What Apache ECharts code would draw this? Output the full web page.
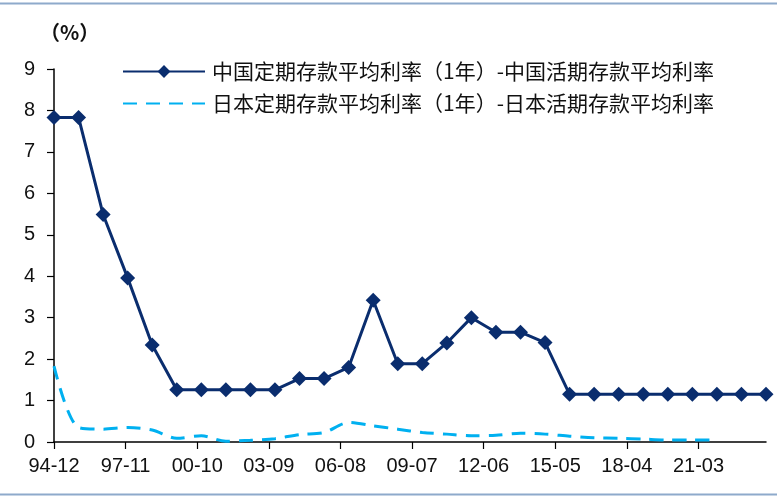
<!DOCTYPE html>
<html>
<head>
<meta charset="utf-8">
<script src="https://cdn.jsdelivr.net/npm/echarts@6/dist/echarts.min.js"></script>
<style>
html,body{margin:0;padding:0;background:#fff;}
#c{width:781px;height:501px;}
</style>
</head>
<body>
<div id="c"></div>
<script>
// Axis: monthly categories from 94-12 to 23-12
const axisStart = [1994, 12];
const axisEnd = [2023, 12];
const tickLabels = ['94-12','97-11','00-10','03-09','06-08','09-07','12-06','15-05','18-04','21-03'];

const seriesNames = [
  '中国定期存款平均利率（1年）-中国活期存款平均利率',
  '日本定期存款平均利率（1年）-日本活期存款平均利率'
];

// China: year-end spread points
const chinaDates = ['94-12','95-12','96-12','97-12','98-12','99-12','00-12','01-12','02-12','03-12',
  '04-12','05-12','06-12','07-12','08-12','09-12','10-12','11-12','12-12','13-12',
  '14-12','15-12','16-12','17-12','18-12','19-12','20-12','21-12','22-12','23-12'];
const chinaValues = [7.83,7.83,5.49,3.96,2.34,1.26,1.26,1.26,1.26,1.26,
  1.53,1.53,1.80,3.42,1.89,1.89,2.39,3.00,2.65,2.65,
  2.40,1.15,1.15,1.15,1.15,1.15,1.15,1.15,1.15,1.15];

// Japan: year-end spread points
const japanDates = ['94-12','95-12','96-12','97-12','98-12','99-12','00-12','01-12','02-12','03-12',
  '04-12','05-12','06-12','07-12','08-12','09-12','10-12','11-12','12-12','13-12',
  '14-12','15-12','16-12','17-12','18-12','19-12','20-12','21-12'];
const japanValues = [1.83,0.35,0.31,0.35,0.29,0.09,0.15,0.02,0.04,0.08,
  0.18,0.23,0.47,0.39,0.31,0.23,0.19,0.15,0.16,0.21,
  0.19,0.14,0.10,0.09,0.07,0.05,0.05,0.05];

const yTicks = [0,1,2,3,4,5,6,7,8,9];

// build monthly categories
const categories = [];
{
  let y = axisStart[0], m = axisStart[1];
  while (y < axisEnd[0] || (y === axisEnd[0] && m <= axisEnd[1])) {
    categories.push(String(y % 100).padStart(2,'0') + '-' + String(m).padStart(2,'0'));
    m++; if (m > 12) { m = 1; y++; }
  }
}
function toSeries(dates, vals) {
  const map = {};
  dates.forEach((d, i) => { map[d] = vals[i]; });
  return categories.map(c => (c in map ? map[c] : null));
}

const chart = echarts.init(document.getElementById('c'));
const navy = '#0a2d6e';
const sky = '#00b0f0';
const isTick = (idx, val) => tickLabels.indexOf(categories[idx]) >= 0;

chart.setOption({
  animation: false,
  backgroundColor: '#fff',
  grid: {left: 54, right: 15, top: 69, bottom: 59, containLabel: false},
  legend: {
    orient: 'vertical',
    left: 117,
    top: 56,
    itemWidth: 82,
    itemHeight: 16,
    itemGap: 11,
    data: [
      {name: seriesNames[0]},
      {name: seriesNames[1], itemStyle: {opacity: 0}}
    ],
    textStyle: {
      fontFamily: '"Noto Sans CJK SC", sans-serif',
      fontSize: 21,
      color: '#111',
      padding: [0, 0, 0, 2]
    }
  },
  xAxis: {
    type: 'category',
    data: categories,
    boundaryGap: false,
    axisLine: {lineStyle: {color: '#000', width: 1.5}},
    axisTick: {show: true, interval: isTick, length: 7, lineStyle: {color: '#000', width: 1.2}},
    axisLabel: {
      interval: isTick,
      margin: 14,
      fontFamily: '"Liberation Sans", Arial, sans-serif',
      fontSize: 20,
      color: '#111'
    },
    splitLine: {show: false}
  },
  yAxis: {
    type: 'value',
    min: yTicks[0],
    max: yTicks[yTicks.length - 1],
    interval: 1,
    axisLine: {show: true, lineStyle: {color: '#000', width: 1.5}},
    axisTick: {show: true, length: 7, lineStyle: {color: '#000', width: 1.2}},
    axisLabel: {
      margin: 19,
      fontFamily: '"Liberation Sans", Arial, sans-serif',
      fontSize: 20,
      color: '#111'
    },
    splitLine: {show: false}
  },
  graphic: [
    {type: 'text', left: 40, top: 22,
     style: {text: '（%）', font: 'bold 20px "Noto Sans CJK SC", sans-serif', fill: '#111'}},
    {type: 'line', shape: {x1: 0, y1: 3.5, x2: 777, y2: 3.5},
     style: {stroke: '#8eaacb', lineWidth: 2}},
    {type: 'line', shape: {x1: 0, y1: 494.5, x2: 777, y2: 494.5},
     style: {stroke: '#8eaacb', lineWidth: 2}}
  ],
  series: [
    {
      name: seriesNames[0],
      type: 'line',
      data: toSeries(chinaDates, chinaValues),
      connectNulls: true,
      showAllSymbol: true,
      symbol: 'diamond',
      symbolSize: 15,
      itemStyle: {color: navy},
      lineStyle: {color: navy, width: 3},
      z: 3
    },
    {
      name: seriesNames[1],
      type: 'line',
      data: toSeries(japanDates, japanValues),
      connectNulls: true,
      showSymbol: false,
      symbol: 'none',
      smooth: 0.3,
      itemStyle: {color: sky},
      lineStyle: {color: sky, width: 3, type: [14, 9]},
      z: 2
    }
  ]
});
</script>
</body>
</html>
